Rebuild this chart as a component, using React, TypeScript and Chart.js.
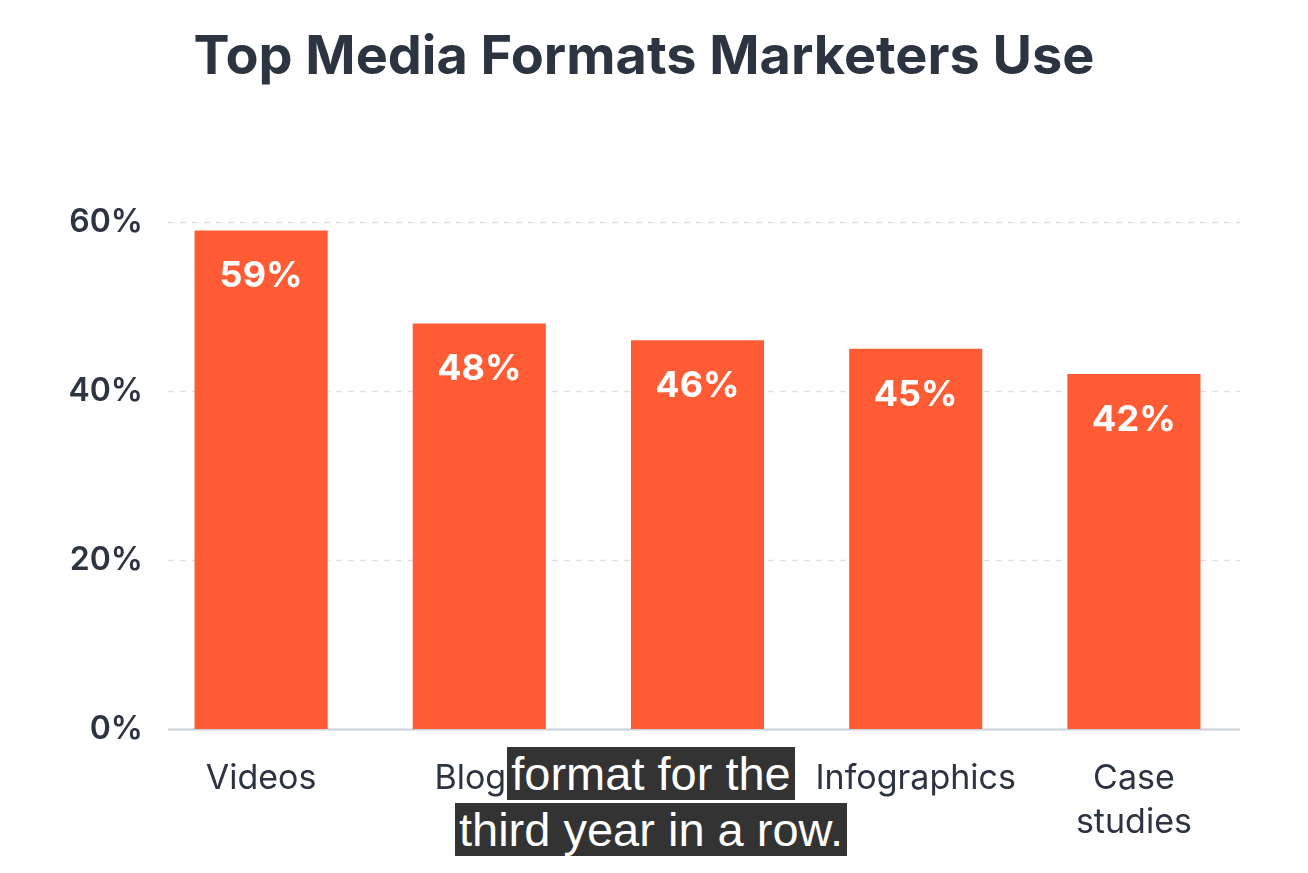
import React, { useEffect, useRef } from "react";
import { Chart, registerables } from "chart.js";

Chart.register(...registerables);

const TITLE = "Top Media Formats Marketers Use";
const categories: (string | string[])[] = ["Videos", "Blogs", "Images", "Infographics", ["Case", "studies"]];
const values = [59, 48, 46, 45, 42];
const yMax = 60;
const yStep = 20;
const captionLines = ["format for the", "third year in a row."];

const FONT = "Inter, 'Noto Sans', sans-serif";
const DARK = "#2d3441";
const ORANGE = "#ff5c35";

const gridPlugin = {
  id: "customGrid",
  beforeDatasetsDraw(chart: any) {
    const { ctx, chartArea, scales } = chart;
    const y = scales.y;
    ctx.save();
    y.ticks.forEach((t: any) => {
      const py = Math.round(y.getPixelForValue(t.value)) + 0.5;
      ctx.beginPath();
      if (t.value === 0) {
        ctx.setLineDash([]);
        ctx.strokeStyle = "#c9d0da";
        ctx.lineWidth = 2;
      } else {
        ctx.setLineDash([6, 6]);
        ctx.strokeStyle = "#dde1e7";
        ctx.lineWidth = 1.5;
      }
      ctx.moveTo(chartArea.left + 16, py);
      ctx.lineTo(chartArea.right - 3, py);
      ctx.stroke();
    });
    ctx.restore();
  },
};

const labelPlugin = {
  id: "barLabels",
  afterDatasetsDraw(chart: any) {
    const { ctx } = chart;
    const meta = chart.getDatasetMeta(0);
    ctx.save();
    ctx.fillStyle = "#ffffff";
    ctx.font = `700 36px ${FONT}`;
    ctx.textAlign = "center";
    ctx.textBaseline = "middle";
    meta.data.forEach((bar: any, i: number) => {
      ctx.fillText(`${values[i]}%`, bar.x, bar.y + 46);
    });
    ctx.restore();
  },
};

export default function App() {
  const ref = useRef<HTMLCanvasElement | null>(null);

  useEffect(() => {
    if (!ref.current) return;
    const chart = new Chart(ref.current, {
      type: "bar",
      data: {
        labels: categories,
        datasets: [
          {
            data: values,
            backgroundColor: ORANGE,
            barPercentage: 0.61,
            categoryPercentage: 1,
          },
        ],
      },
      options: {
        animation: false,
        responsive: false,
        maintainAspectRatio: false,
        layout: { padding: { left: 45, right: 65, top: 0, bottom: 0 } },
        plugins: {
          legend: { display: false },
          tooltip: { enabled: false },
          title: {
            display: true,
            text: TITLE,
            color: DARK,
            font: { family: FONT, size: 54, weight: "bold", lineHeight: 1.2 },
            padding: { top: 25, bottom: 132.2 },
          },
        },
        scales: {
          y: {
            min: 0,
            max: yMax,
            ticks: {
              stepSize: yStep,
              callback: (v: any) => `${v}%`,
              color: DARK,
              font: { family: FONT, size: 32, weight: 600 },
              padding: 9,
            },
            grid: { display: false, drawTicks: false },
            border: { display: false },
            afterFit: (s: any) => {
              s.width = 107;
            },
          },
          x: {
            ticks: {
              color: DARK,
              font: { family: FONT, size: 34, weight: 400, lineHeight: "44px" },
              padding: 28,
              maxRotation: 0,
              autoSkip: false,
            },
            grid: { display: false, drawTicks: false },
            border: { display: false },
            afterFit: (s: any) => {
              s.height = 144;
            },
          },
        },
      },
      plugins: [gridPlugin, labelPlugin],
    });
    return () => chart.destroy();
  }, []);

  const captionStyle: React.CSSProperties = {
    display: "inline-block",
    background: "#333333",
    color: "#ffffff",
    fontFamily: "'Liberation Sans', Arial, sans-serif",
    fontSize: 47,
    lineHeight: "53px",
    padding: "0 4px",
    whiteSpace: "nowrap",
  };

  return (
    <div style={{ position: "absolute", left: 0, top: 0, width: 1308, height: 873, background: "#ffffff", overflow: "hidden" }}>
      <canvas ref={ref} width={1308} height={873} style={{ display: "block", width: 1308, height: 873 }} />
      <div style={{ position: "absolute", left: 0, top: 747, width: 1302, textAlign: "center", lineHeight: 0 }}>
        <div style={{ lineHeight: 0, marginBottom: 3 }}>
          <span style={captionStyle}>{captionLines[0]}</span>
        </div>
        <div style={{ lineHeight: 0 }}>
          <span style={captionStyle}>{captionLines[1]}</span>
        </div>
      </div>
    </div>
  );
}
